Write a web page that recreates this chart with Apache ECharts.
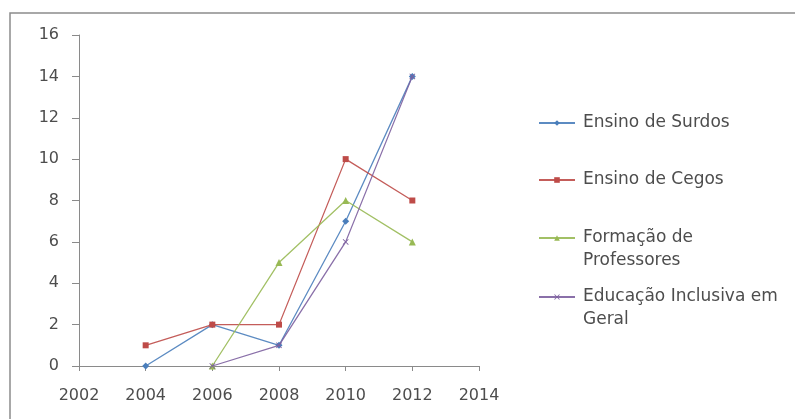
<!DOCTYPE html>
<html>
<head>
<meta charset="utf-8">
<script src="https://cdn.jsdelivr.net/npm/echarts@6/dist/echarts.min.js"></script>
<style>
html,body{margin:0;padding:0;background:#fff;}
#chart{width:795px;height:419px;}
</style>
</head>
<body>
<div id="chart"></div>
<script>
// ---- data ----
const years = [2004, 2006, 2008, 2010, 2012];
const ensinoSurdos = [0, 2, 1, 7, 14];
const ensinoCegos = [1, 2, 2, 10, 8];
const formacaoProfessores = [null, 0, 5, 8, 6];
const educacaoInclusiva = [null, 0, 1, 6, 14];
const seriesNames = ['Ensino de Surdos', 'Ensino de Cegos', 'Formação de Professores', 'Educação Inclusiva em Geral'];
const legendLabels = ['Ensino de Surdos', 'Ensino de Cegos', 'Formação de\nProfessores', 'Educação Inclusiva em\nGeral'];
const xTicks = [2002, 2004, 2006, 2008, 2010, 2012, 2014];
const yTicks = [0, 2, 4, 6, 8, 10, 12, 14, 16];

function pairs(vals) {
  const out = [];
  years.forEach((y, i) => { if (vals[i] !== null) out.push([y, vals[i]]); });
  return out;
}

const FONT = 'DejaVu Sans';
const TXT = '#4d4d4d';
const colors = ['#4A7EBB', '#BE4B48', '#98B954', '#7D60A0'];
const symbols = ['diamond', 'rect', 'triangle', 'path://M0,1L1,0L5,4L9,0L10,1L6,5L10,9L9,10L5,6L1,10L0,9L4,5Z'];
const sizes = [7, 6, 7, 6];
const allVals = [ensinoSurdos, ensinoCegos, formacaoProfessores, educacaoInclusiva];

const chart = echarts.init(document.getElementById('chart'), null, {renderer: 'canvas'});

// two-line labels get an empty leading line so the icon sits beside the first text line
const labelMap = {};
seriesNames.forEach((n, i) => {
  labelMap[n] = legendLabels[i].indexOf('\n') >= 0 ? '\n' + legendLabels[i] : legendLabels[i];
});

const legendTops = [111.5, 168.5, 203.5, 262.5];
const legends = seriesNames.map((n, i) => ({
  orient: 'vertical',
  left: 538,
  top: legendTops[i],
  padding: 0,
  itemWidth: 36,
  itemHeight: 7,
  selectedMode: false,
  formatter: name => labelMap[name],
  textStyle: {fontFamily: FONT, fontSize: 17, color: TXT, lineHeight: 23, padding: [0, 0, 0, 3]},
  data: [n]
}));

chart.setOption({
  backgroundColor: '#ffffff',
  animation: false,
  color: colors,
  grid: {left: 79, right: 316, top: 35, bottom: 53, containLabel: false},
  legend: legends,
  xAxis: {
    type: 'value',
    min: xTicks[0], max: xTicks[xTicks.length - 1], interval: 2,
    splitLine: {show: false},
    axisLine: {show: true, onZero: false, lineStyle: {color: '#8a8a8a', width: 1}},
    axisTick: {show: true, length: 5, lineStyle: {color: '#8a8a8a'}},
    axisLabel: {fontFamily: FONT, fontSize: 16, color: TXT, margin: 22, formatter: v => String(v)}
  },
  yAxis: {
    type: 'value',
    min: yTicks[0], max: yTicks[yTicks.length - 1], interval: 2,
    splitLine: {show: false},
    axisLine: {show: true, lineStyle: {color: '#8a8a8a', width: 1}},
    axisTick: {show: true, length: 7, lineStyle: {color: '#8a8a8a'}},
    axisLabel: {fontFamily: FONT, fontSize: 16, color: TXT, margin: 20}
  },
  series: seriesNames.map((n, i) => ({
    name: n,
    type: 'line',
    data: pairs(allVals[i]),
    symbol: symbols[i],
    symbolSize: sizes[i],
    showAllSymbol: true,
    lineStyle: {width: 1.3, color: colors[i], opacity: 0.9},
    itemStyle: {color: colors[i]},
    z: 2 + i
  })),
  graphic: [{
    type: 'rect',
    silent: true,
    shape: {x: 10, y: 13, width: 800, height: 420},
    style: {fill: 'none', stroke: '#8c8c8c', lineWidth: 1.5}
  }]
});
</script>
</body>
</html>
